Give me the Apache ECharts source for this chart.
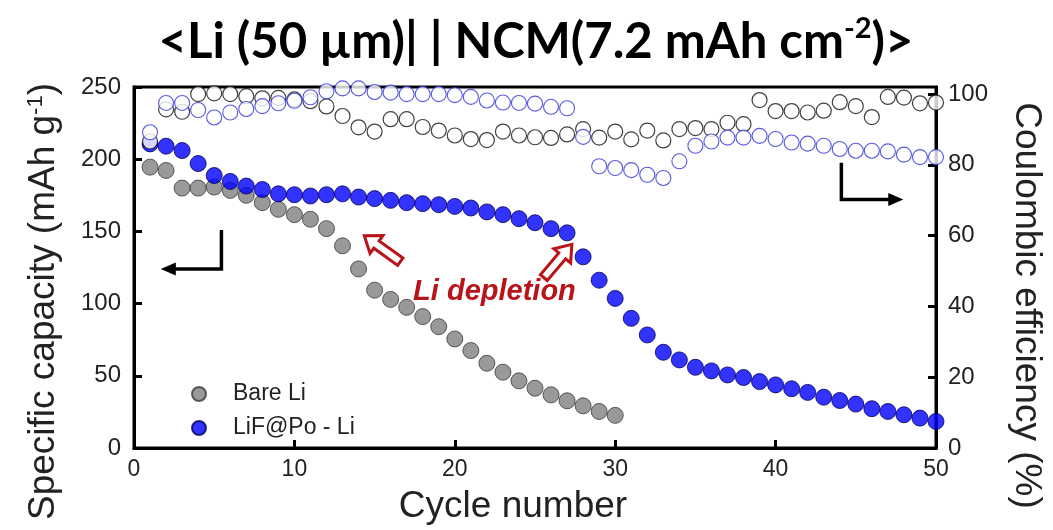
<!DOCTYPE html>
<html>
<head>
<meta charset="utf-8">
<script src="https://cdn.jsdelivr.net/npm/echarts@6/dist/echarts.min.js"></script>
<style>
html,body{margin:0;padding:0;background:#fff;}
#main{width:1053px;height:530px;}
</style>
</head>
<body>
<div id="main"></div>
<script>
// ---- data ----
const xTicks = [0, 10, 20, 30, 40, 50];
const capTicks = [0, 50, 100, 150, 200, 250];
const ceTicks = [0, 20, 40, 60, 80, 100];
const cyclesBare = [1,2,3,4,5,6,7,8,9,10,11,12,13,14,15,16,17,18,19,20,21,22,23,24,25,26,27,28,29,30];
const cyclesAll = [1,2,3,4,5,6,7,8,9,10,11,12,13,14,15,16,17,18,19,20,21,22,23,24,25,26,27,28,29,30,31,32,33,34,35,36,37,38,39,40,41,42,43,44,45,46,47,48,49,50];
const bareCapacity = [194.5, 192.2, 180, 180, 180.7, 178.4, 175, 169.9, 165.3, 161.6, 158.4, 151.9, 140, 124, 109.3, 102.9, 97.4, 91, 84, 75.5, 67.5, 58.7, 52.5, 46.5, 41.4, 36.8, 32.7, 29.2, 25.3, 22.6];
const lifCapacity = [210.6, 209, 206, 197, 188.7, 184.6, 181.4, 179, 176, 175.4, 174.5, 175.4, 176, 173.8, 172.7, 171.5, 169.9, 169.2, 168.5, 167.3, 166.2, 163.5, 161.6, 158.8, 156, 151.9, 149, 132.4, 116.2, 103.6, 89.8, 78.3, 66.3, 61, 55.9, 53.4, 50.6, 48.8, 46, 43.7, 41, 38.5, 35.2, 32.9, 30.4, 27.2, 25.3, 23, 20.7, 18.4];
const bareCE = [86.6, 95.7, 95, 100, 100.2, 100, 99.4, 98.8, 98.9, 98.5, 98, 96.5, 93.8, 90.6, 89.4, 92.9, 92.9, 90.7, 89.7, 88.3, 87.3, 87, 89.4, 88.3, 87.8, 87.6, 88.6, 90.1, 87.7, 89.4, 87.2, 89.7, 86.9, 90.1, 90.4, 90.1, 91.9, 91.5, 98.3, 95.2, 95.2, 94.8, 95.3, 97.7, 96.6, 93.5, 99.2, 99, 97.4, 97.6];
const lifCE = [89.2, 97.5, 97.5, 95.5, 93.4, 94.8, 95.8, 96.6, 97.4, 98.1, 99.1, 100.8, 101.6, 101.6, 100.6, 100.4, 100, 100, 100, 99.7, 99.2, 98.2, 97.6, 97.5, 97.3, 96.4, 96, 87.9, 79.6, 79.1, 78.5, 77.2, 76.3, 81, 85.4, 86.6, 87.7, 87.7, 88.2, 87.3, 86.3, 86, 85.4, 84.5, 84, 84, 83.8, 82.9, 82.2, 82.2];
const seriesNames = ['Bare Li', 'LiF@Po - Li'];

const pair = (xs, ys) => ys.map((v, i) => [xs[i], v]);

const chart = echarts.init(document.getElementById('main'), null, {renderer: 'canvas'});
const AX = 'Liberation Sans, Arial, sans-serif';
const axisLine = {show: true, lineStyle: {color: '#000', width: 3}};
const axisTick = {show: true, inside: true, length: 8, lineStyle: {color: '#000', width: 3}};

chart.setOption({
  animation: false,
  backgroundColor: '#fff',
  title: {
    text: '<Li (50 µm)| | NCM(7.2 mAh cm{sup|-2})>',
    left: 531, top: 9, textAlign: 'center',
    textStyle: {
      fontFamily: 'Lato', fontWeight: 'bold', fontSize: 49, color: '#000', lineHeight: 56,
      rich: {sup: {fontFamily: 'Lato', fontWeight: 'bold', fontSize: 29, verticalAlign: 'top', color: '#000', lineHeight: 56, padding: [0, 0, 18, 0]}}
    }
  },
  grid: {left: 134, right: 111, top: 87, bottom: 80, show: true, borderColor: '#000', borderWidth: 3, backgroundColor: 'transparent'},
  legend: {
    data: seriesNames, orient: 'vertical', left: 186, top: 377, itemGap: 10,
    icon: 'circle', itemWidth: 14, itemHeight: 14,
    textStyle: {fontFamily: AX, fontSize: 23, color: '#222', lineHeight: 24, padding: [0, 0, 0, 22]}
  },
  xAxis: {
    type: 'value', min: xTicks[0], max: xTicks[xTicks.length - 1], interval: xTicks[1] - xTicks[0],
    name: 'Cycle number', nameLocation: 'middle', nameGap: 40,
    nameTextStyle: {fontFamily: AX, fontSize: 37, color: '#222', padding: [0, 44, 0, 0]},
    axisLine, axisTick, splitLine: {show: false},
    axisLabel: {fontFamily: AX, fontSize: 23, color: '#222', margin: 10}
  },
  yAxis: [{
    type: 'value', min: capTicks[0], max: capTicks[capTicks.length - 1], interval: capTicks[1] - capTicks[0],
    name: 'Specific capacity (mAh g{sup|-1})', nameLocation: 'middle', nameGap: 72,
    nameTextStyle: {fontFamily: AX, fontSize: 37, color: '#222', padding: [0, 68, 0, 0],
      rich: {sup: {fontFamily: AX, fontSize: 22, color: '#222', verticalAlign: 'top', padding: [0, 0, 14, 0]}}},
    axisLine, axisTick, splitLine: {show: false},
    axisLabel: {fontFamily: AX, fontSize: 24, color: '#222', margin: 13}
  }, {
    type: 'value', position: 'right', min: ceTicks[0], max: 102, interval: ceTicks[1] - ceTicks[0],
    name: 'Coulombic efficiency (%)', nameLocation: 'middle', nameGap: 72, nameRotate: -90,
    nameTextStyle: {fontFamily: AX, fontSize: 37, color: '#222', padding: [0, 0, 0, 76]},
    axisLine, axisTick, splitLine: {show: false},
    axisLabel: {fontFamily: AX, fontSize: 24, color: '#222', margin: 12, showMaxLabel: false,
      formatter: v => (ceTicks.indexOf(v) >= 0 ? String(v) : '')}
  }],
  series: [
    {name: seriesNames[0], type: 'scatter', yAxisIndex: 0, symbol: 'circle', symbolSize: 16,
     itemStyle: {color: '#7f7f7f', borderColor: '#3a3a3a', borderWidth: 1}, data: pair(cyclesBare, bareCapacity), z: 3},
    {name: seriesNames[1], type: 'scatter', yAxisIndex: 0, symbol: 'circle', symbolSize: 16,
     itemStyle: {color: '#0000ff', borderColor: '#00005a', borderWidth: 1}, data: pair(cyclesAll, lifCapacity), z: 3},
    {name: 'Bare Li CE', type: 'scatter', yAxisIndex: 1, symbol: 'circle', symbolSize: 15,
     itemStyle: {color: '#ffffff', borderColor: '#111', borderWidth: 1.2}, data: pair(cyclesAll, bareCE), z: 4},
    {name: 'LiF@Po - Li CE', type: 'scatter', yAxisIndex: 1, symbol: 'circle', symbolSize: 15,
     itemStyle: {color: '#ffffff', borderColor: '#3030d8', borderWidth: 1.1}, data: pair(cyclesAll, lifCE), z: 4}
  ]
});

// ---- annotations positioned via the axes ----
function P(x, y, yi) { return chart.convertToPixel({xAxisIndex: 0, yAxisIndex: yi}, [x, y]); }
function blockArrow(tail, tip) {
  const dx = tip[0] - tail[0], dy = tip[1] - tail[1];
  const L = Math.hypot(dx, dy), ux = dx / L, uy = dy / L, vx = -uy, vy = ux;
  const sw = 4.5, hw = 11, hl = 15;
  const pts = [[0, sw], [L - hl, sw], [L - hl, hw], [L, 0], [L - hl, -hw], [L - hl, -sw], [0, -sw]];
  return pts.map(p => [tail[0] + ux * p[0] + vx * p[1], tail[1] + uy * p[0] + vy * p[1]]);
}
const red = '#b8141a';
const la = [P(5.45, 151, 0), P(5.45, 124, 0), P(1.67, 124, 0)];
const ra = [P(44.1, 80.6, 1), P(44.1, 70.2, 1), P(47.96, 70.2, 1)];
const arrowHead = (end, dir) => [[end[0], end[1]], [end[0] - dir * 15, end[1] - 6.5], [end[0] - dir * 15, end[1] + 6.5]];
const txt = P(17.4, 108, 0);

chart.setOption({
  graphic: [
    {type: 'polyline', shape: {points: [la[0], la[1], [la[2][0] + 12, la[2][1]]]}, style: {stroke: '#000', lineWidth: 3.5, fill: null}, z: 10},
    {type: 'polygon', shape: {points: arrowHead(la[2], -1)}, style: {fill: '#000'}, z: 10},
    {type: 'polyline', shape: {points: [ra[0], ra[1], [ra[2][0] - 12, ra[2][1]]]}, style: {stroke: '#000', lineWidth: 3.5, fill: null}, z: 10},
    {type: 'polygon', shape: {points: arrowHead(ra[2], 1)}, style: {fill: '#000'}, z: 10},
    {type: 'polygon', shape: {points: blockArrow(P(16.6, 129, 0), P(14.36, 147, 0))}, style: {fill: '#fff', stroke: red, lineWidth: 3}, z: 10},
    {type: 'polygon', shape: {points: blockArrow(P(25.55, 118, 0), P(27.3, 141, 0))}, style: {fill: '#fff', stroke: red, lineWidth: 3}, z: 10},
    {type: 'text', x: txt[0], y: txt[1], style: {text: 'Li depletion', fill: red, font: 'italic bold 29px "Liberation Sans", Arial, sans-serif', align: 'left', verticalAlign: 'middle'}, z: 10}
  ]
});
</script>
</body>
</html>
